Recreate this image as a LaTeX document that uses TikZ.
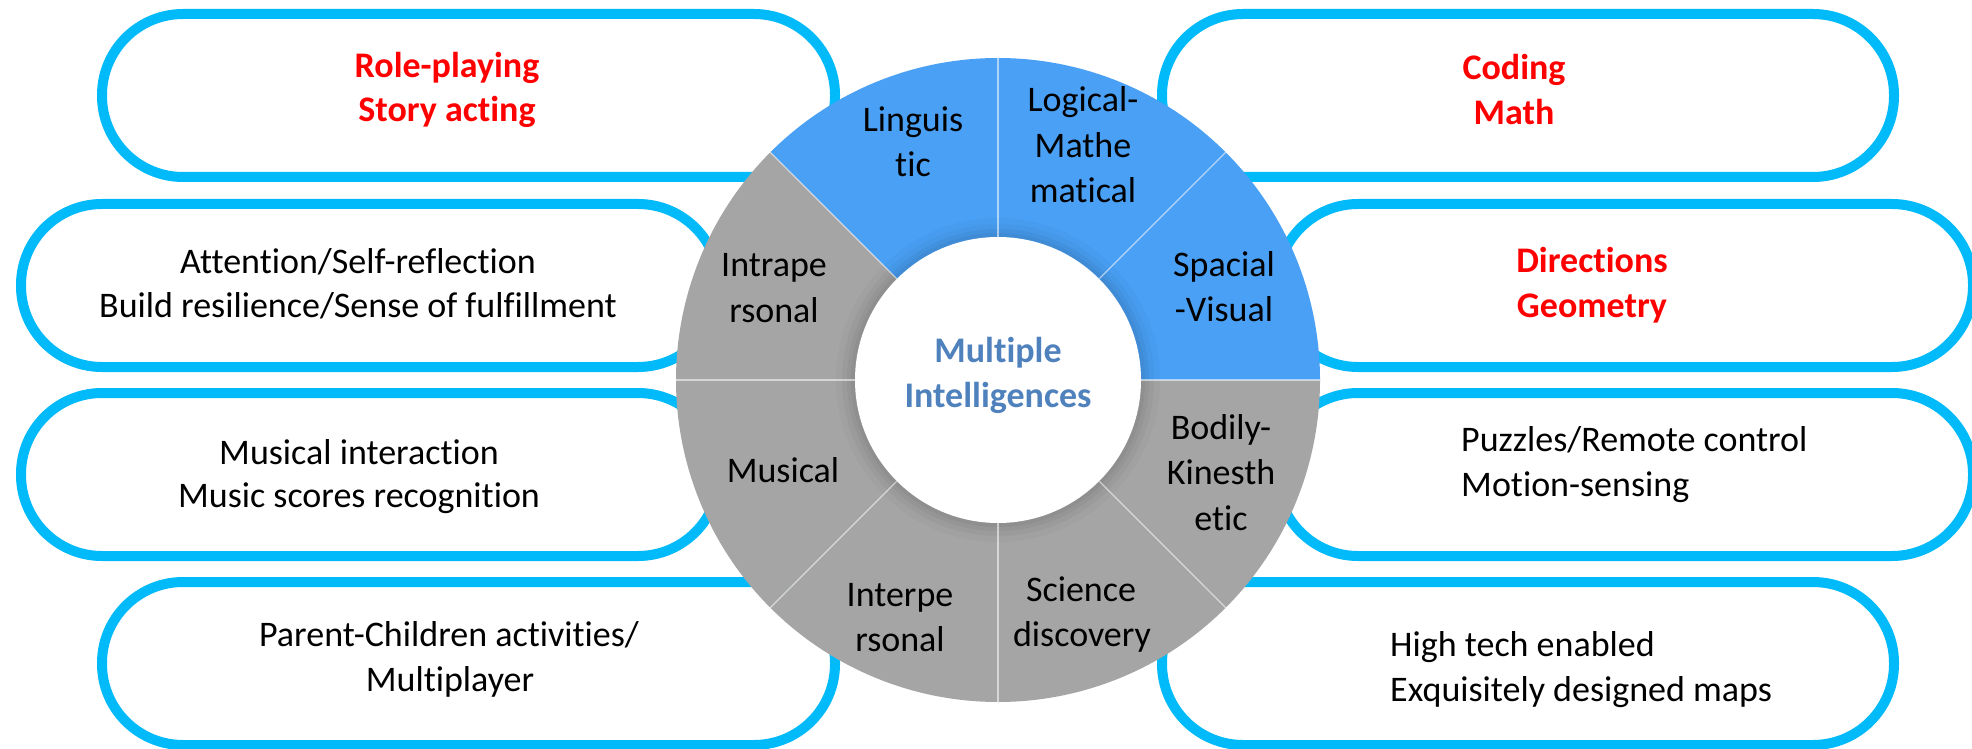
\documentclass[tikz,border=0pt]{standalone}
\usepackage{fontspec}
\setmainfont[Ligatures=NoCommon]{Carlito}
\definecolor{cyanb}{RGB}{0,186,250}
\definecolor{segblue}{RGB}{74,160,245}
\definecolor{seggray}{RGB}{165,165,165}
\definecolor{titleblue}{RGB}{79,129,189}
\definecolor{actred}{RGB}{255,0,0}
\begin{document}
\begin{tikzpicture}[x=1pt,y=1pt,
  pill/.style={draw=cyanb, line width=10pt, fill=white, rectangle, rounded corners=81pt, minimum height=163pt, inner sep=0pt},
  txt/.style={inner sep=0pt, anchor=base, font=\fontsize{36}{45}\selectfont, text=black},
  txtl/.style={txt, anchor=base west},
  redtxt/.style={txt, font=\fontsize{36}{45}\selectfont\bfseries, text=actred},
  hubtxt/.style={txt, font=\fontsize{36}{45}\selectfont\bfseries, text=titleblue},
  sepline/.style={draw=white, draw opacity=0.55, line width=1.3pt}
]
\useasboundingbox (0,0) rectangle (1972,748);
\clip (0,0) rectangle (1972,748);
\fill[white] (0,0) rectangle (1972,748);

% activity boxes
\node[pill, minimum width=733pt] (b1) at (468.5,652.5) {};
\node[pill, minimum width=698pt] (b2) at (370,462.5) {};
\node[pill, minimum width=698pt] (b3) at (370,273.5) {};
\node[pill, minimum width=733pt] (b4) at (468.5,84.5) {};
\node[pill, minimum width=732pt] (b5) at (1528,652.5) {};
\node[pill, minimum width=696pt] (b6) at (1625,462.5) {};
\node[pill, minimum width=696pt] (b7) at (1625,273.5) {};
\node[pill, minimum width=732pt] (b8) at (1528,84.5) {};

% ring
\coordinate (C) at (998,368);
\foreach \s/\c in {0/segblue,45/segblue,90/segblue,135/seggray,180/seggray,225/seggray,270/seggray,315/seggray}
  \fill[\c] (C) -- ++(\s:322) arc[start angle=\s, delta angle=45, radius=322] -- cycle;
\foreach \r/\o in {162/0.025,156/0.03,151/0.035,147/0.04}
  \fill[black, opacity=\o] (C) circle[radius=\r];
\foreach \a in {0,45,...,315}
  \draw[sepline] (C) ++(\a:143) -- ++(\a:179);
\node[circle, fill=white, minimum size=286pt, inner sep=0pt] (hub) at (C) {};

% hub text
\node[hubtxt] (h1) at (998,385) {Multiple};
\node[hubtxt] (h2) at (998,341) {Intelligences};

% segment labels
\node[txt] (lin1) at (913,616) {Linguis};
\node[txt] (lin2) at (913,571) {tic};
\node[txt] (log1) at (1083,636) {Logical-};
\node[txt] (log2) at (1083,590) {Mathe};
\node[txt] (log3) at (1083,545) {matical};
\node[txt] (spa1) at (1224,471) {Spacial};
\node[txt] (spa2) at (1224,426) {-Visual};
\node[txt] (bod1) at (1221,309) {Bodily-};
\node[txt] (bod2) at (1221,264) {Kinesth};
\node[txt] (bod3) at (1221,218) {etic};
\node[txt] (sci1) at (1081,147) {Science};
\node[txt] (sci2) at (1082,102) {discovery};
\node[txt] (inter1) at (900,142) {Interpe};
\node[txt] (inter2) at (900,97) {rsonal};
\node[txt] (mus) at (783,266) {Musical};
\node[txt] (intra1) at (774,471) {Intrape};
\node[txt] (intra2) at (774,425) {rsonal};

% box texts
\node[redtxt] (t1a) at (447,670) {Role-playing};
\node[redtxt] (t1b) at (447,626) {Story acting};
\node[txt] (t2a) at (358,474) {Attention/Self-reflection};
\node[txt] (t2b) at (358,430) {Build resilience/Sense of fulfillment};
\node[txt] (t3a) at (359,284) {Musical interaction};
\node[txt] (t3b) at (359,241) {Music scores recognition};
\node[txt] (t4a) at (449,102) {Parent-Children activities/};
\node[txt] (t4b) at (450,57) {Multiplayer};
\node[redtxt] (t5a) at (1514,668) {Coding};
\node[redtxt] (t5b) at (1514,623) {Math};
\node[redtxt] (t6a) at (1592,475) {Directions};
\node[redtxt] (t6b) at (1592,430) {Geometry};
\node[txtl] (t7a) at (1461,297) {Puzzles/Remote control};
\node[txtl] (t7b) at (1461,252) {Motion-sensing};
\node[txtl] (t8a) at (1390,92) {High tech enabled};
\node[txtl] (t8b) at (1390,47) {Exquisitely designed maps};
\end{tikzpicture}
\end{document}
